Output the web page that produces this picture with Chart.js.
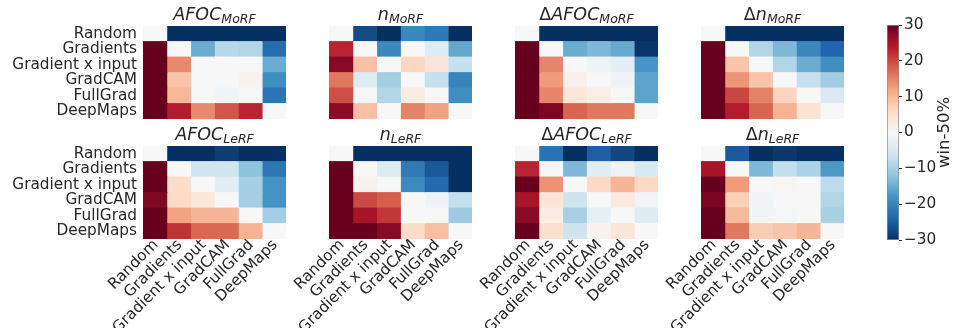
<!DOCTYPE html>
<html>
<head>
<meta charset="utf-8">
<script src="https://cdn.jsdelivr.net/npm/chart.js@4.4.1/dist/chart.umd.min.js"></script>
<style>
  html, body { margin: 0; padding: 0; background: #ffffff; }
  #wrap { position: relative; width: 956px; height: 328px; overflow: hidden; }
  #wrap canvas { position: absolute; left: 0; top: 0; }
</style>
</head>
<body>
<div id="wrap"></div>
<script>
// Methods compared (rows = method, columns = opponent)
const methods = ['Random', 'Gradients', 'Gradient x input', 'GradCAM', 'FullGrad', 'DeepMaps'];

// Colour bar ticks (win rate minus 50%)
const colorbarTicks = [-30, -20, -10, 0, 10, 20, 30];

// win-50% per metric, row vs column
const afocMoRF = [
  [0, -30, -30, -30, -30, -30],
  [30, 0, -15, -8.5, -9, -23],
  [30, 14.5, 0, 0, 0, -15],
  [30, 8.7, 0, 0, 1, -18.7],
  [30, 10, 0, -1, 0, -22],
  [30, 23.7, 14.5, 19, 23, 0]
];
const nMoRF = [
  [0, -27, -30, -19.5, -21.5, -30],
  [23, 0, -19.5, 0, -4, -15.5],
  [27.5, 9, 0, 6.5, 4, -7],
  [16, -4, -10.5, 0, -7, -20],
  [19.5, -0.5, -9, 2.5, 0, -18.7],
  [27, 9, 0, 15, 12.3, 0]
];
const dAfocMoRF = [
  [0, -30, -30, -30, -30, -30],
  [30, 0, -15, -13.4, -15.3, -29.4],
  [30, 14.8, 0, -1.4, -3, -17.8],
  [30, 12.8, 1.5, 0, -1.4, -16],
  [30, 14.8, 3.6, 2, 0, -16],
  [30, 28.2, 17.6, 16, 16, 0]
];
const dnMoRF = [
  [0, -30, -30, -30, -30, -30],
  [30, 0, -9, -13.4, -19.6, -24],
  [30, 8.6, 0, -9, -15, -18.7],
  [30, 13.4, 8.6, 0, -7, -10.6],
  [30, 20.2, 15, 6.7, 0, -4.6],
  [30, 23.7, 17.6, 10.4, 4.5, 0]
];
const afocLeRF = [
  [0, -30, -30, -28.3, -30, -30],
  [30, 0, -6, -6, -12.3, -21.7],
  [30, 5.8, 0, -3.5, -10.1, -18],
  [28.1, 6, 3.2, 0, -10.1, -18],
  [30, 12.2, 10.2, 10.2, 0, -10.5],
  [30, 21.7, 17.3, 17.3, 10.5, 0]
];
const nLeRF = [
  [0, -30, -30, -30, -30, -30],
  [30, 0, -4, -21.4, -25.5, -30],
  [30, 1, 0, -19.4, -23.5, -30],
  [30, 19.8, 18.2, 0, -1.5, -7.3],
  [30, 24.8, 21.3, 0, 0, -10.9],
  [30, 30, 27.5, 5.8, 9.1, 0]
];
const dAfocLeRF = [
  [0, -22.4, -30, -24.7, -27.4, -30],
  [23, 0, -13.4, -3.5, -1.6, -4.7],
  [30, 13.6, 0, 6.3, 10.2, 6.3],
  [24.8, 4.2, -6.1, 0, 3, -1],
  [27.3, 2.3, -9.9, -2.8, 0, -4.1],
  [30, 4.9, -6.1, 1, 3.8, 0]
];
const dnLeRF = [
  [0, -25.3, -30, -29, -30, -30],
  [24.8, 0, -13.5, -7.3, -9.6, -17.3],
  [30, 12.9, 0, 0.7, 0, -7.9],
  [28.4, 7.2, -0.8, 0, 0, -9],
  [30, 9.8, -0.8, -0.5, 0, -9.9],
  [30, 16, 7.6, 8.6, 10.2, 0]
];

// Diverging colour map (RdBu reversed), from -30 to +30
const CMAP = ['#053061', '#2166ac', '#4393c3', '#92c5de', '#d1e5f0', '#f7f7f7',
              '#fddbc7', '#f4a582', '#d6604d', '#b2182b', '#67001f'];
const VMIN = -30, VMAX = 30;
function hexRgb(h) { return [1, 3, 5].map(i => parseInt(h.slice(i, i + 2), 16)); }
function colorFor(v) {
  let t = (v - VMIN) / (VMAX - VMIN);
  t = Math.max(0, Math.min(1, t)) * (CMAP.length - 1);
  const i = Math.min(Math.floor(t), CMAP.length - 2);
  const f = t - i;
  const a = hexRgb(CMAP[i]), b = hexRgb(CMAP[i + 1]);
  const c = a.map((x, k) => Math.round(x + (b[k] - x) * f));
  return `rgb(${c[0]},${c[1]},${c[2]})`;
}

const TEXT = '#262626';
const FAMILY = '"DejaVu Sans", sans-serif';
const TICK_SIZE = 15.3;
Chart.defaults.font.family = FAMILY;
Chart.defaults.color = TEXT;

const W = 956, H = 328;
const wrap = document.getElementById('wrap');
function newCanvas() {
  const c = document.createElement('canvas');
  c.width = W; c.height = H;
  c.style.width = W + 'px'; c.style.height = H + 'px';
  wrap.appendChild(c);
  return c;
}

const panels = [
  { delta: false, main: 'AFOC', sub: 'MoRF', values: afocMoRF, col: 0, row: 0 },
  { delta: false, main: 'n',    sub: 'MoRF', values: nMoRF,    col: 1, row: 0 },
  { delta: true,  main: 'AFOC', sub: 'MoRF', values: dAfocMoRF, col: 2, row: 0 },
  { delta: true,  main: 'n',    sub: 'MoRF', values: dnMoRF,   col: 3, row: 0 },
  { delta: false, main: 'AFOC', sub: 'LeRF', values: afocLeRF, col: 0, row: 1 },
  { delta: false, main: 'n',    sub: 'LeRF', values: nLeRF,    col: 1, row: 1 },
  { delta: true,  main: 'AFOC', sub: 'LeRF', values: dAfocLeRF, col: 2, row: 1 },
  { delta: true,  main: 'n',    sub: 'LeRF', values: dnLeRF,   col: 3, row: 1 }
];

// Panel title with a math-style subscript, e.g. ΔAFOC_MoRF
function titlePlugin(p) {
  return {
    id: 'panelTitle',
    afterDraw(chart) {
      const { ctx, chartArea } = chart;
      const fDelta = `17.5px ${FAMILY}`;
      const fMain = `italic 17.5px ${FAMILY}`;
      const fSub = `italic 12.5px ${FAMILY}`;
      ctx.save();
      ctx.fillStyle = TEXT;
      ctx.textBaseline = 'alphabetic';
      ctx.textAlign = 'left';
      const parts = [];
      if (p.delta) parts.push({ t: '\u0394', f: fDelta, dy: 0 });
      parts.push({ t: p.main, f: fMain, dy: 0 });
      parts.push({ t: p.sub, f: fSub, dy: 3 });
      let total = 0;
      parts.forEach(q => { ctx.font = q.f; q.w = ctx.measureText(q.t).width; total += q.w; });
      let x = (chartArea.left + chartArea.right) / 2 - total / 2;
      const base = chartArea.top - 6;
      parts.forEach(q => { ctx.font = q.f; ctx.fillText(q.t, x, base + q.dy); x += q.w; });
      ctx.restore();
    }
  };
}

function makePanel(p) {
  const left = 143 + 186 * p.col;
  const top = p.row === 0 ? 26 : 146;
  const pw = 143, ph = 93;
  const showY = p.col === 0;
  const showX = p.row === 1;
  // one stacked dataset per column; each cell is a unit-wide segment coloured by its value
  const datasets = methods.map((m, j) => ({
    label: m,
    data: methods.map(() => 1),
    backgroundColor: p.values.map(r => colorFor(r[j])),
    borderWidth: 0,
    inflateAmount: 0.4,
    barPercentage: 1,
    categoryPercentage: 1
  }));
  new Chart(newCanvas(), {
    type: 'bar',
    data: { labels: methods, datasets },
    options: {
      indexAxis: 'y',
      responsive: false,
      animation: false,
      devicePixelRatio: 1,
      events: [],
      layout: {
        padding: {
          left: showY ? 0 : left,
          top: top,
          right: W - (left + pw),
          bottom: showX ? 0 : H - (top + ph)
        }
      },
      plugins: { legend: { display: false }, tooltip: { enabled: false }, title: { display: false } },
      scales: {
        x: {
          type: 'linear', min: 0, max: methods.length, stacked: true,
          display: showX,
          grid: { display: false, drawTicks: false },
          border: { display: false },
          afterBuildTicks: s => { s.ticks = methods.map((m, i) => ({ value: i + 0.5 })); },
          afterFit: s => { s.height = showX ? H - (top + ph) : 0; },
          ticks: {
            autoSkip: false, minRotation: 45, maxRotation: 45,
            padding: -3, labelOffset: 1,
            font: { size: TICK_SIZE }, color: TEXT,
            callback: (v, i) => methods[i]
          }
        },
        y: {
          type: 'category', stacked: true,
          display: showY,
          grid: { display: false, drawTicks: false },
          border: { display: false },
          afterFit: s => { s.width = showY ? left : 0; },
          ticks: { padding: 6, font: { size: TICK_SIZE }, color: TEXT, autoSkip: false }
        }
      }
    },
    plugins: [titlePlugin(p)]
  });
}
panels.forEach(makePanel);

// Colour bar
const cbLeft = 887, cbRight = 899, cbTop = 25, cbBottom = 240, cbAxisW = 50;
new Chart(newCanvas(), {
  type: 'bar',
  data: {
    labels: [''],
    datasets: [{
      data: [[VMIN, VMAX]],
      backgroundColor: c => {
        const a = c.chart.chartArea;
        if (!a) return CMAP[5];
        const g = c.chart.ctx.createLinearGradient(0, a.bottom, 0, a.top);
        CMAP.forEach((col, k) => g.addColorStop(k / (CMAP.length - 1), col));
        return g;
      },
      borderColor: '#8c8c8c',
      borderWidth: 1,
      borderSkipped: false,
      barPercentage: 1,
      categoryPercentage: 1
    }]
  },
  options: {
    responsive: false,
    animation: false,
    devicePixelRatio: 1,
    events: [],
    layout: { padding: { left: cbLeft, top: cbTop, right: W - cbRight - cbAxisW, bottom: H - cbBottom } },
    plugins: { legend: { display: false }, tooltip: { enabled: false } },
    scales: {
      x: { display: false },
      y: {
        position: 'right', min: VMIN, max: VMAX,
        afterBuildTicks: s => { s.ticks = colorbarTicks.map(v => ({ value: v })); },
        afterFit: s => { s.width = cbAxisW; },
        grid: { drawOnChartArea: false, drawTicks: true, tickLength: 3, color: TEXT, lineWidth: 1 },
        border: { display: false },
        ticks: {
          padding: 2, font: { size: TICK_SIZE }, color: TEXT,
          callback: v => (v < 0 ? '\u2212' + Math.abs(v) : String(v))
        }
      }
    }
  },
  plugins: [{
    id: 'cbLabel',
    afterDraw(chart) {
      const { ctx, chartArea } = chart;
      ctx.save();
      ctx.fillStyle = TEXT;
      ctx.font = `16.5px ${FAMILY}`;
      ctx.textAlign = 'center';
      ctx.textBaseline = 'middle';
      ctx.translate(945, (chartArea.top + chartArea.bottom) / 2);
      ctx.rotate(-Math.PI / 2);
      ctx.fillText('win-50%', 0, 0);
      ctx.restore();
    }
  }]
});
</script>
</body>
</html>
